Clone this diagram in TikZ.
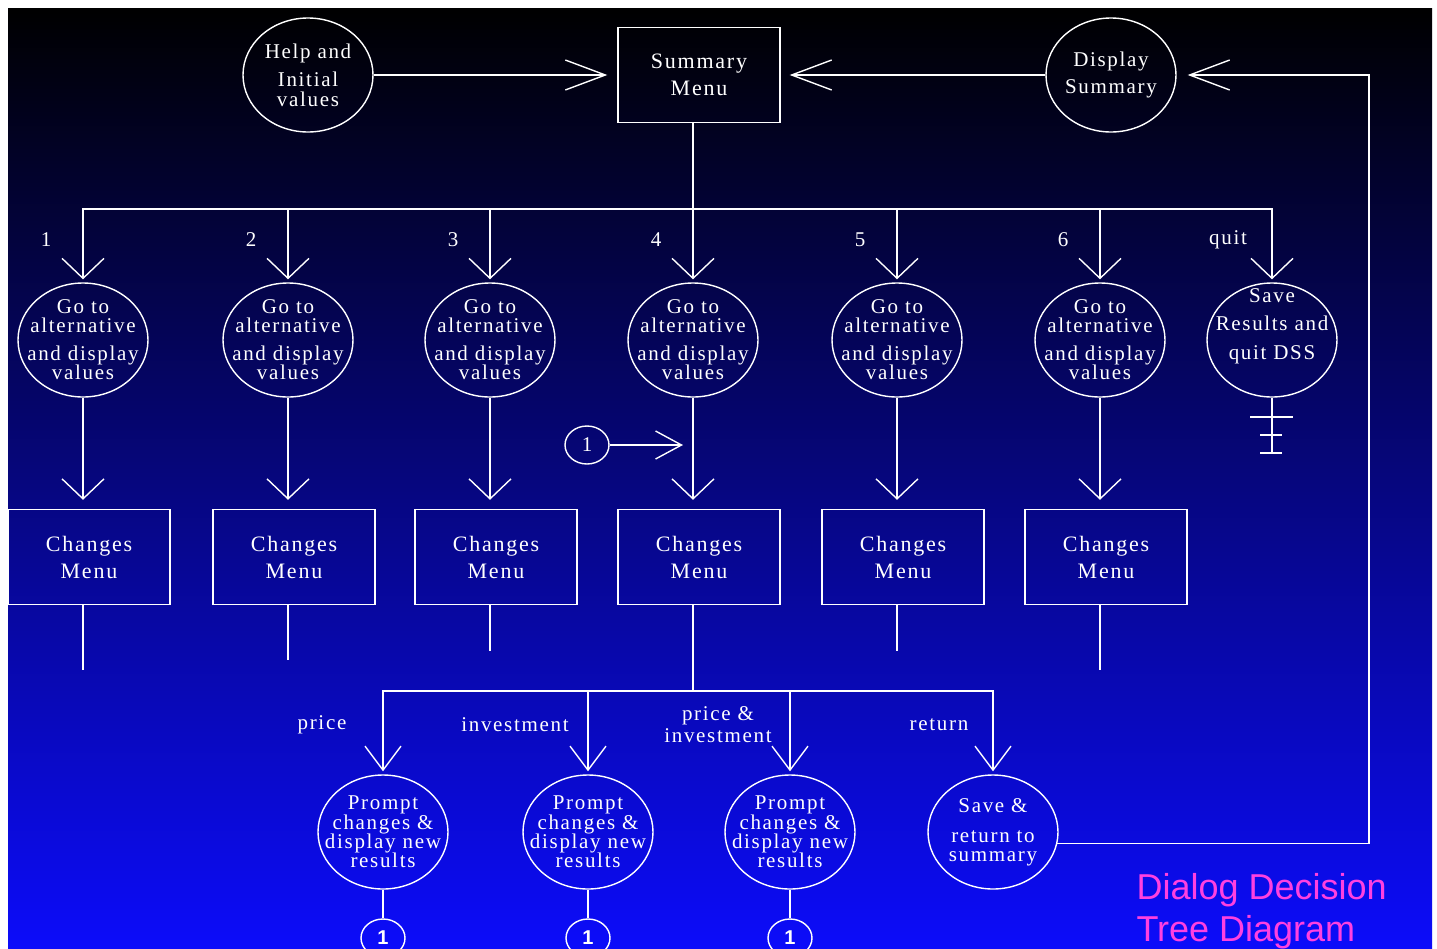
\documentclass[tikz,border=0pt]{standalone}
\usepackage{fontspec}
\setmainfont{Liberation Serif}[LetterSpace=8]
\newfontfamily\titlefont{Liberation Sans}
\usetikzlibrary{arrows.meta,shapes.geometric}

\definecolor{titlepink}{RGB}{255,64,224}
\definecolor{deepblue}{RGB}{12,12,250}

\tikzset{
    wire/.style={draw=white, line width=1.4pt},
    oval/.style={wire, ellipse, minimum width=130pt, minimum height=114pt, inner sep=0pt},
    menu/.style={wire, rectangle, minimum width=162pt, minimum height=95pt, text=white,
        align=center, font=\fontsize{22}{27}\selectfont},
    ovaltext/.style={text=white, align=center, font=\fontsize{21}{21}\selectfont},
    tag/.style={text=white, align=center, font=\fontsize{21}{21}\selectfont},
    backlink/.style={wire, ellipse, minimum width=44pt, minimum height=38pt, inner sep=0pt,
        text=white, font=\titlefont\bfseries\fontsize{20}{20}\selectfont},
    vbarb/.style={-{Straight Barb[length=20pt,width=42pt]}},
    hbarb/.style={-{Straight Barb[length=40pt,width=30pt]}},
    pbarb/.style={-{Straight Barb[length=24pt,width=36pt]}},
}

\begin{document}
\begin{tikzpicture}[x=1pt, y=-1pt]
    \useasboundingbox (0,0) rectangle (1437,948);
    \fill[white] (0,0) rectangle (1437,948);
    \shade[top color=black, bottom color=deepblue] (8,8) rectangle (1432,948);

    \node[oval, label={[ovaltext]center:{Help and\\[7pt]Initial\\[-1pt]values}}] (help) at (308,75) {};
    \node[menu] (summ) at (699,75) {Summary\\Menu};
    \node[oval, label={[ovaltext]center:{Display\\[6pt]Summary}}] (disp) at (1111,75) {};

    \draw[wire, hbarb, shorten >=10pt] (help.east) -- (summ.west);
    \draw[wire, hbarb, shorten >=9pt] (disp.west) -- (summ.east);

    \coordinate (bus) at (693,209);
    \draw[wire] (summ.south -| bus) -- (bus);

    \foreach \i/\x/\stub in {1/83/670, 2/288/660, 3/490/651, 4/693/691, 5/897/651, 6/1100/670} {
        \node[oval, label={[ovaltext]center:{Go to\\[-2pt]alternative\\[7pt]and display\\[-2pt]values}}] (goto\i) at (\x,340) {};
        \node[tag] (num\i) at (\x-37,240) {\i};
        \node[menu] (chg\i) at (\x+6,557) {Changes\\Menu};
        \draw[wire, vbarb, shorten >=3pt] (bus) -| (goto\i.north);
        \draw[wire, vbarb, shorten >=9pt] (goto\i.south) -- (goto\i |- chg\i.north);
        \draw[wire] (goto\i |- chg\i.south) -- (\x,\stub);
    }

    \node[oval, label={[ovaltext, yshift=14pt]center:{Save\\[7pt]Results and\\[8pt]quit DSS}}] (quit) at (1272,340) {};
    \node[tag] (quitlab) at (1228,240) {quit};
    \draw[wire, vbarb, shorten >=3pt] (bus) -| (quit.north);
    \coordinate (qend) at (1272,453);
    \draw[wire] (quit.south) -- (qend);
    \draw[wire] (1250,417) -- (1293,417);
    \draw[wire] (1260,435) -- (1282,435);
    \draw[wire] (1260,453) -- (1282,453);

    \node[backlink, font=\fontsize{21}{21}\selectfont] (link) at (587,445) {1};
    \draw[wire, -{Straight Barb[length=26pt,width=28pt]}, shorten >=10pt] (link.east) -- (link -| goto4);

    \coordinate (bus2) at (693,691);
    \foreach \j/\x in {1/383, 2/588, 3/790} {
        \node[oval, label={[ovaltext]center:{Prompt\\[-1pt]changes \&\\[-2pt]display new\\[-2pt]results}}] (prm\j) at (\x,832) {};
        \node[backlink] (back\j) at (\x,938) {1};
        \draw[wire, pbarb, shorten >=3pt] (bus2) -| (prm\j.north);
        \draw[wire] (prm\j.south) -- (back\j.north);
    }
    \node[oval, label={[ovaltext]center:{Save \&\\[9pt]return to\\[-2pt]summary}}] (ret) at (993,832) {};
    \draw[wire, pbarb, shorten >=3pt] (bus2) -| (ret.north);

    \node[tag] (lprice) at (322,725) {price};
    \node[tag] (linv) at (515,725) {investment};
    \node[tag] (lboth) at (718,725) {price \&\\[1pt]investment};
    \node[tag] (lret) at (939,725) {return};

    \coordinate (loop) at (1369,75);
    \draw[wire, hbarb, shorten >=11pt] (ret.-10) -| (loop) -- (disp.east);

    \node[text=titlepink, align=left, anchor=west, font=\titlefont\fontsize{36}{42}\selectfont] (title) at (1133,911) {Dialog Decision\\Tree Diagram};
\end{tikzpicture}
\end{document}
